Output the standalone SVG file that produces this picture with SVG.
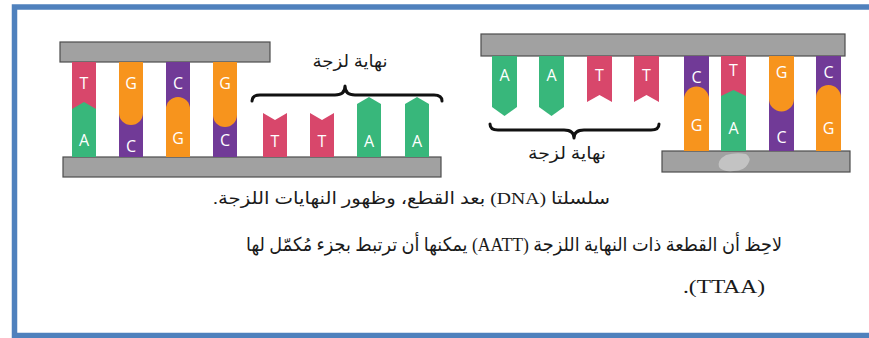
<svg xmlns="http://www.w3.org/2000/svg" width="869" height="338" viewBox="0 0 869 338">
  <style>
    .bar { fill: #a1a1a1; stroke: #4d4d4d; stroke-width: 1.2; }
    .red { fill: #d8476b; }
    .grn { fill: #38b77b; }
    .org { fill: #f7941d; }
    .pur { fill: #713a97; }
    .base { font-family: "Open Sans", "DejaVu Sans", sans-serif; font-size: 16px; fill: #ffffff; text-anchor: middle; }
    .brace { fill: none; stroke: #111111; stroke-width: 3; stroke-linecap: round; stroke-linejoin: round; }
    .ar { font-family: "Liberation Serif", "DejaVu Sans", serif; fill: #1a1a1a; text-anchor: middle; }
  </style>

  <!-- page frame -->
  <path d="M14.5,338 V7 H869 M14.5,335.5 H869" fill="none" stroke="#4f81bd" stroke-width="5.5"/>

  <!-- left fragment: paired bases between two backbone bars, sticky end on the lower strand -->
  <g id="left-fragment">
    <rect class="bar" x="60" y="42" width="210" height="20"/>
    <rect class="bar" x="63" y="157" width="378" height="20"/>

    <!-- T / A -->
    <rect class="grn" x="72" y="62" width="24" height="95"/>
    <polygon class="red" points="72,62 96,62 96,109 84,102 72,109"/>
    <text class="base" x="84" y="89">T</text>
    <text class="base" x="84" y="146">A</text>

    <!-- G / C -->
    <rect class="pur" x="119" y="62" width="24" height="95"/>
    <path class="org" d="M119,62 H143 V113 A12,12 0 0 1 119,113 Z"/>
    <text class="base" x="131" y="89">G</text>
    <text class="base" x="131" y="152">C</text>

    <!-- C / G -->
    <rect class="pur" x="166" y="62" width="24" height="95"/>
    <path class="org" d="M166,157 V109 A12,12 0 0 1 190,109 V157 Z"/>
    <text class="base" x="178" y="89">C</text>
    <text class="base" x="178" y="144">G</text>

    <!-- G / C -->
    <rect class="pur" x="213" y="62" width="24" height="95"/>
    <path class="org" d="M213,62 H237 V115 A12,12 0 0 1 213,115 Z"/>
    <text class="base" x="225" y="89">G</text>
    <text class="base" x="225" y="146">C</text>

    <!-- unpaired sticky end TTAA -->
    <polygon class="red" points="263,113 275,120 287,113 287,157 263,157"/>
    <text class="base" x="275" y="147">T</text>
    <polygon class="red" points="310,113 322,120 334,113 334,157 310,157"/>
    <text class="base" x="322" y="147">T</text>
    <polygon class="grn" points="357,104 369,97 381,104 381,157 357,157"/>
    <text class="base" x="369" y="147">A</text>
    <polygon class="grn" points="405,104 417,97 429,104 429,157 405,157"/>
    <text class="base" x="417" y="147">A</text>
  </g>

  <!-- right fragment: sticky end AATT hanging from the upper strand -->
  <g id="right-fragment">
    <rect class="bar" x="481" y="34" width="364" height="22"/>
    <rect class="bar" x="662" y="151" width="188" height="21"/>
    <path d="M726,155 Q736,152 746,154 Q752,158 748,164 Q744,171 734,171 Q722,172 719,167 Q717,160 726,155 Z" fill="#c3c3c3"/>

    <!-- unpaired sticky end AATT -->
    <polygon class="grn" points="492,56 517,56 517,107 504.5,116 492,107"/>
    <text class="base" x="504.5" y="81">A</text>
    <polygon class="grn" points="539,56 564,56 564,107 551.5,116 539,107"/>
    <text class="base" x="551.5" y="81">A</text>
    <polygon class="red" points="587,56 612,56 612,102 599.5,95 587,102"/>
    <text class="base" x="599.5" y="81">T</text>
    <polygon class="red" points="634,56 659,56 659,102 646.5,95 634,102"/>
    <text class="base" x="646.5" y="81">T</text>

    <!-- C / G -->
    <rect class="pur" x="684" y="56" width="25" height="95"/>
    <path class="org" d="M684,151 V99 A12.5,12.5 0 0 1 709,99 V151 Z"/>
    <text class="base" x="696.5" y="83">C</text>
    <text class="base" x="696.5" y="131">G</text>

    <!-- T / A -->
    <rect class="grn" x="721" y="56" width="25" height="95"/>
    <polygon class="red" points="721,56 746,56 746,96 733.5,90 721,96"/>
    <text class="base" x="733.5" y="76">T</text>
    <text class="base" x="733.5" y="134">A</text>

    <!-- G / C -->
    <rect class="pur" x="769" y="56" width="25" height="95"/>
    <path class="org" d="M769,56 H794 V99 A12.5,12.5 0 0 1 769,99 Z"/>
    <text class="base" x="781.5" y="78">G</text>
    <text class="base" x="781.5" y="143">C</text>

    <!-- C / G -->
    <rect class="pur" x="816" y="56" width="25" height="95"/>
    <path class="org" d="M816,151 V97.5 A12.5,12.5 0 0 1 841,97.5 V151 Z"/>
    <text class="base" x="828.5" y="78">C</text>
    <text class="base" x="828.5" y="134">G</text>
  </g>

  <!-- braces marking the sticky ends -->
  <g id="connectors">
    <path class="brace" d="M252,101 Q252,95 260,95 H335 Q345,95 345,86 Q345,95 355,95 H434 Q442,95 442,101"/>
    <path class="brace" d="M490,124 Q490,130 498,130 H564 Q574,130 574,138 Q574,130 584,130 H651 Q659,130 659,124"/>
  </g>

  <g id="labels">
    <text class="ar" x="350" y="67" font-size="17" direction="rtl" textLength="75" lengthAdjust="spacingAndGlyphs">نهاية لزجة</text>
    <text class="ar" x="567" y="159" font-size="17" direction="rtl" textLength="78" lengthAdjust="spacingAndGlyphs">نهاية لزجة</text>
  </g>

  <g id="caption">
    <text class="ar" x="411.5" y="204" font-size="17" direction="rtl" textLength="397" lengthAdjust="spacingAndGlyphs">سلسلتا (DNA) بعد القطع، وظهور النهايات اللزجة.</text>
    <text class="ar" x="514" y="251" font-size="19" direction="rtl" textLength="536" lengthAdjust="spacingAndGlyphs">لاحِظ أن القطعة ذات النهاية اللزجة (AATT) يمكنها أن ترتبط بجزء مُكمّل لها</text>
    <text class="ar" x="724" y="293" font-size="19" direction="rtl" textLength="82" lengthAdjust="spacingAndGlyphs">(TTAA).</text>
  </g>
</svg>
